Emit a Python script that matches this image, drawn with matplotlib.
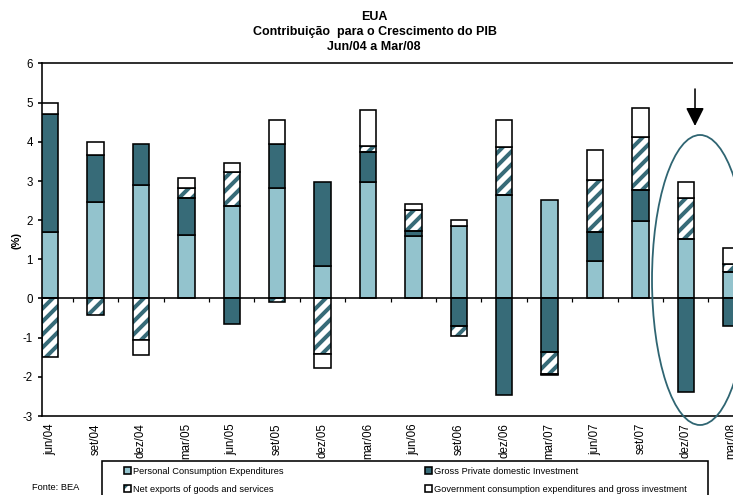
import numpy as np
import matplotlib
matplotlib.use("Agg")
import matplotlib.pyplot as plt
from matplotlib.patches import Rectangle, Ellipse, FancyArrowPatch

DPI = 78
W, H = 733, 495


def pt(px):
    """Convert a size in pixels to points at the figure resolution."""
    return px * 72.0 / DPI


def fx(px):
    return px / W


def fy(py):
    return 1.0 - py / H


# ---- data: contribution to US GDP growth (percentage points) ----
quarters = ["jun/04", "set/04", "dez/04", "mar/05", "jun/05", "set/05",
            "dez/05", "mar/06", "jun/06", "set/06", "dez/06", "mar/07",
            "jun/07", "set/07", "dez/07", "mar/08"]
consumption = [1.70, 2.46, 2.91, 1.63, 2.35, 2.81, 0.82, 2.97,
               1.59, 1.84, 2.65, 2.52, 0.97, 1.99, 1.52, 0.67]
investment = [3.02, 1.21, 1.04, 0.93, -0.65, 1.14, 2.16, 0.76,
              0.14, -0.69, -2.47, -1.37, 0.72, 0.77, -2.39, -0.71]
net_exports = [-1.50, -0.41, -1.05, 0.26, 0.89, -0.08, -1.41, 0.16,
               0.54, -0.28, 1.23, -0.55, 1.34, 1.37, 1.04, 0.21]
government = [0.28, 0.32, -0.38, 0.26, 0.21, 0.61, -0.37, 0.92,
              0.15, 0.17, 0.68, -0.03, 0.76, 0.73, 0.41, 0.41]
yticks = [6, 5, 4, 3, 2, 1, 0, -1, -2, -3]

labels = ["Personal Consumption Expenditures",
          "Gross Private domestic Investment",
          "Net exports of goods and services",
          "Government consumption expenditures and gross investment"]

LIGHT = "#93c3cd"
DARK = "#376b78"
RING = "#2f6572"
HATCH = "//"

plt.rcParams["font.family"] = ["Liberation Sans", "DejaVu Sans"]
plt.rcParams["hatch.linewidth"] = pt(4.0)

fig = plt.figure(figsize=((W + 0.01) / DPI, (H + 0.01) / DPI), dpi=DPI)

# plot area geometry (in pixels); the area runs past the right border
step = 45.4
bar_w = 0.36
xl = -bar_w / 2
xr = 15.8
ax_left, ax_top, ax_bottom = 42, 63.5, 416
ax_w = (xr - xl) * step
ax = fig.add_axes([fx(ax_left), fy(ax_bottom), ax_w / W, (ax_bottom - ax_top) / H])
ax.set_xlim(xl, xr)
ax.set_ylim(-3, 6)

x = np.arange(len(quarters))
edge_lw = pt(1.6)

series = [
    (consumption, dict(color=LIGHT)),
    (investment, dict(color=DARK)),
    (net_exports, dict(color="white", hatch=HATCH)),
    (government, dict(color="white")),
]

pos_base = np.zeros(len(x))
neg_base = np.zeros(len(x))
for vals, style in series:
    v = np.asarray(vals, dtype=float)
    bottom = np.where(v >= 0, pos_base, neg_base)
    if "hatch" in style:
        ax.bar(x, v, bottom=bottom, width=bar_w, facecolor="white",
               edgecolor=DARK, linewidth=0, hatch=style["hatch"], zorder=2)
        ax.bar(x, v, bottom=bottom, width=bar_w, facecolor="none",
               edgecolor="black", linewidth=edge_lw, zorder=3)
    else:
        ax.bar(x, v, bottom=bottom, width=bar_w, facecolor=style["color"],
               edgecolor="black", linewidth=edge_lw, zorder=3)
    pos_base += np.clip(v, 0, None)
    neg_base += np.clip(v, None, 0)

# category axis crossing at zero, with ticks between categories
ax.axhline(0, color="black", linewidth=edge_lw, zorder=4)
ax.vlines(x[:-1] + 0.5, -0.09, 0, color="black", linewidth=pt(1.2), zorder=4)

for sp in ax.spines.values():
    sp.set_linewidth(edge_lw)
    sp.set_color("black")

ax.set_yticks(yticks)
ax.set_yticklabels([str(t) for t in yticks])
ax.tick_params(axis="y", direction="out", length=pt(4), width=edge_lw,
               pad=pt(5), labelsize=pt(11.5), colors="black")
ax.set_xticks(x)
ax.set_xticklabels(quarters, rotation=90, va="top", ha="center")
ax.tick_params(axis="x", length=0, pad=pt(7), labelsize=pt(11.5))

# titles and axis label
title_kw = dict(ha="center", va="center", fontweight="bold", fontsize=pt(12.5))
fig.text(fx(374), fy(17), "EUA", **title_kw)
fig.text(fx(375), fy(32), "Contribuição  para o Crescimento do PIB", **title_kw)
fig.text(fx(374), fy(47), "Jun/04 a Mar/08", **title_kw)
fig.text(fx(16), fy(240), "(%)", rotation=90, ha="center", va="center",
         fontweight="bold", fontsize=pt(11))

# highlight of the latest quarters
fig.patches.append(Ellipse((fx(700), fy(280)), 96 / W, 290 / H,
                           transform=fig.transFigure, facecolor="none",
                           edgecolor=RING, linewidth=pt(1.8)))
fig.patches.append(FancyArrowPatch((fx(695), fy(89)), (fx(695), fy(126)),
                                   transform=fig.transFigure,
                                   arrowstyle="-|>,head_length=1.1,head_width=0.55",
                                   mutation_scale=pt(14), color="black",
                                   linewidth=pt(1.6), shrinkA=0, shrinkB=0))

# legend box
fig.patches.append(Rectangle((fx(102), fy(498)), 606 / W, 37 / H,
                             transform=fig.transFigure, facecolor="white",
                             edgecolor="black", linewidth=pt(1.6)))
leg_items = [
    (124, 471, dict(facecolor=LIGHT), labels[0]),
    (425, 471, dict(facecolor=DARK), labels[1]),
    (124, 489, dict(facecolor="white", hatch=HATCH), labels[2]),
    (425, 489, dict(facecolor="white"), labels[3]),
]
sq = 7
for lx, ly, st, txt in leg_items:
    if "hatch" in st:
        fig.patches.append(Rectangle((fx(lx), fy(ly + sq / 2)), sq / W, sq / H,
                                     transform=fig.transFigure, facecolor="white",
                                     edgecolor=DARK, linewidth=0, hatch=HATCH))
        fig.patches.append(Rectangle((fx(lx), fy(ly + sq / 2)), sq / W, sq / H,
                                     transform=fig.transFigure, facecolor="none",
                                     edgecolor="black", linewidth=pt(1.6)))
    else:
        fig.patches.append(Rectangle((fx(lx), fy(ly + sq / 2)), sq / W, sq / H,
                                     transform=fig.transFigure,
                                     edgecolor="black", linewidth=pt(1.6), **st))
    fig.text(fx(lx + 9), fy(ly), txt, ha="left", va="center", fontsize=pt(9.3))

fig.text(fx(32), fy(487), "Fonte: BEA", ha="left", va="center", fontsize=pt(9.3))

fig.savefig("out.png", dpi=DPI, facecolor="white")
